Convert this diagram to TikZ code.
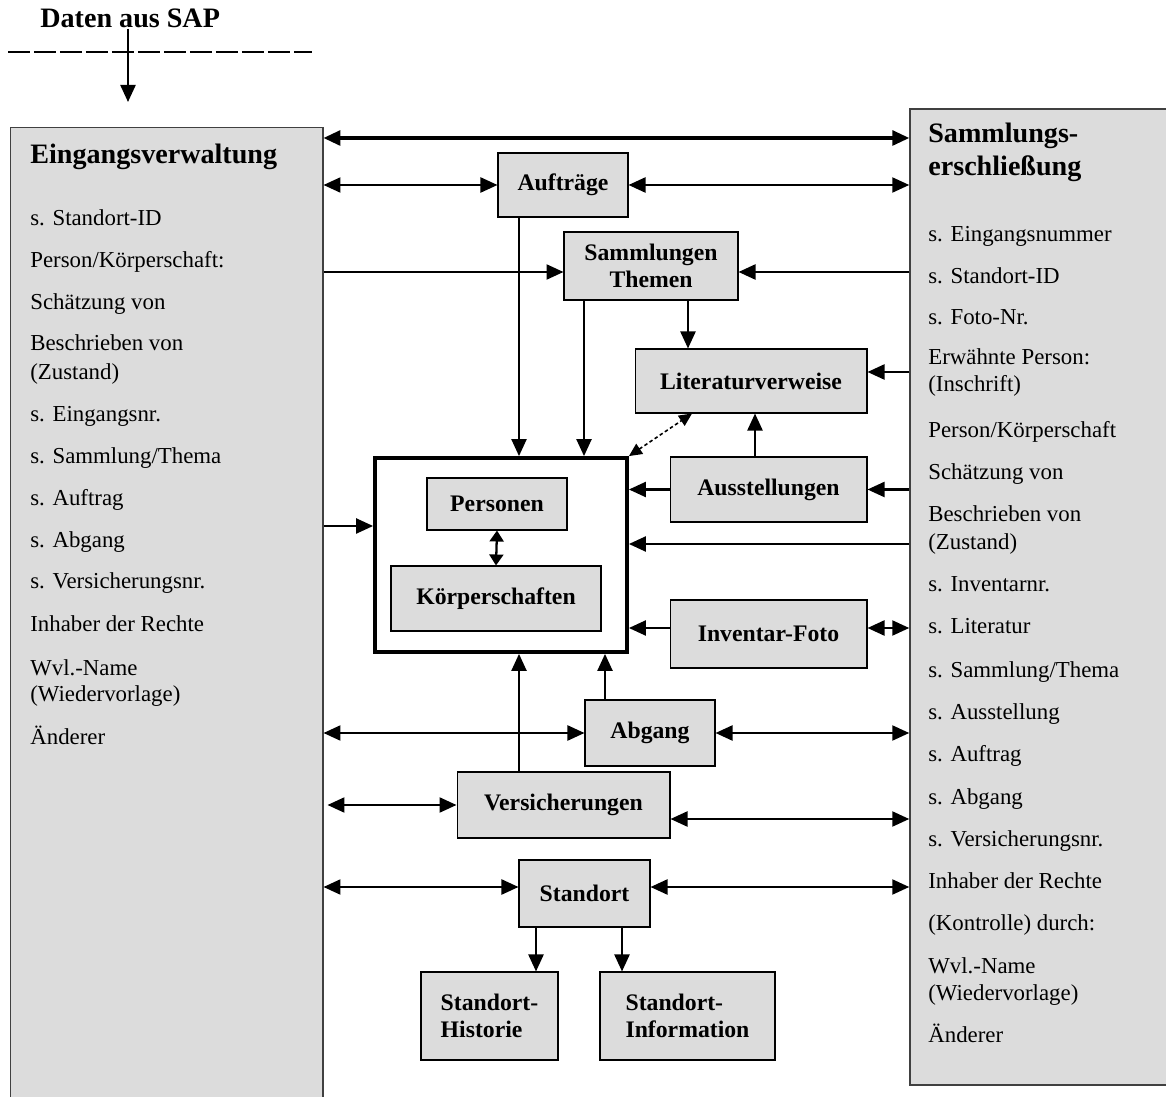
\documentclass[tikz,border=0pt]{standalone}
\usepackage{fontspec}
\setmainfont{Liberation Serif}
\usetikzlibrary{arrows.meta}

\definecolor{kasten}{HTML}{DCDCDC}

\begin{document}
\begin{tikzpicture}[x=0.02cm, y=-0.02cm,
    box/.style={draw, fill=kasten, line width=0.6pt, inner sep=0pt, align=center,
        font=\fontsize{13.5}{15}\selectfont\bfseries,
        path picture={\draw[line width=1.6pt] (path picture bounding box.south west) -- (path picture bounding box.south east);}},
    panel/.style={draw=black!75, fill=kasten, line width=0.6pt, inner sep=0pt},
    eintrag/.style={anchor=base west, inner sep=0pt, font=\fontsize{13}{15}\selectfont},
    titel/.style={anchor=base west, inner sep=0pt, font=\fontsize{16}{18}\selectfont\bfseries},
    pfeil/.style={-{Triangle[length=0.34cm, width=0.3cm]}, line width=1.3pt},
    dpfeil/.style={{Triangle[length=0.34cm, width=0.3cm]}-{Triangle[length=0.34cm, width=0.3cm]}, line width=1.3pt}]

    \useasboundingbox (0,0) rectangle (1166,1097);

    % Daten aus SAP
    \node[titel] (sap) at (40,28) {Daten aus SAP};
    \draw[line width=1pt, dash pattern=on 0.44cm off 0.08cm] (8,52) -- (312,52);
    \coordinate (v0) at (128,0);
    \coordinate (sapende) at (128,102);
    \draw[pfeil] (sap.south -| v0) -- (sapende);

    % the two panels
    \node[panel, minimum width=6.26cm, minimum height=19.7cm] (ein) at (166.5,620) {};
    \node[panel, line width=0.9pt, minimum width=5.3cm, minimum height=19.52cm] (ers) at (1042.5,597) {};

    \node[titel] (eintitel) at (30,164) {Eingangsverwaltung};
    \node[titel] (erstitel) at (928,143) {Sammlungs-};
    \node[titel] (erstitel2) at (928,176) {erschließung};

    \foreach \y/\t [count=\i] in {226/{s. Standort-ID}, 268/{Person/Körperschaft:}, 310/{Schätzung von},
        351/{Beschrieben von}, 380/{(Zustand)}, 422/{s. Eingangsnr.}, 464/{s. Sammlung/Thema},
        506/{s. Auftrag}, 548/{s. Abgang}, 589/{s. Versicherungsnr.}, 632/{Inhaber der Rechte},
        675/{Wvl.-Name}, 701/{(Wiedervorlage)}, 744/{Änderer}}
        \node[eintrag] (links\i) at (30,\y) {\t};

    \foreach \y/\t [count=\i] in {242/{s. Eingangsnummer}, 284/{s. Standort-ID}, 325/{s. Foto-Nr.},
        365/{Erwähnte Person:}, 392/{(Inschrift)}, 438/{Person/Körperschaft}, 480/{Schätzung von},
        522/{Beschrieben von}, 550/{(Zustand)}, 592/{s. Inventarnr.}, 634/{s. Literatur},
        677/{s. Sammlung/Thema}, 719/{s. Ausstellung}, 761/{s. Auftrag}, 804/{s. Abgang},
        846/{s. Versicherungsnr.}, 888/{Inhaber der Rechte}, 930/{(Kontrolle) durch:},
        973/{Wvl.-Name}, 1000/{(Wiedervorlage)}, 1042/{Änderer}}
        \node[eintrag] (rechts\i) at (928,\y) {\t};

    % boxes
    \node[box, minimum width=2.6cm, minimum height=1.28cm] (auf) at (563,185) {Aufträge};
    \node[box, minimum width=3.48cm, minimum height=1.36cm] (sam) at (651,266) {Sammlungen\\Themen};
    \node[box, minimum width=4.64cm, minimum height=1.28cm] (lit) at (751,381) {Literaturverweise};
    \node[draw, fill=white, line width=2.2pt, minimum width=5.04cm, minimum height=3.88cm] (haupt) at (501,555) {};
    \node[box, minimum width=2.8cm, minimum height=1.04cm] (per) at (497,504) {Personen};
    \node[box, minimum width=4.2cm, minimum height=1.3cm] (koe) at (496,598.5) {Körperschaften};
    \node[box, minimum width=3.94cm, minimum height=1.3cm] (aus) at (768.5,489.5) {Ausstellungen};
    \node[box, minimum width=3.94cm, minimum height=1.36cm] (inv) at (768.5,634) {Inventar-Foto};
    \node[box, minimum width=2.6cm, minimum height=1.32cm] (abg) at (650,733) {Abgang};
    \node[box, minimum width=4.26cm, minimum height=1.32cm] (ver) at (563.5,805) {Versicherungen};
    \node[box, minimum width=2.62cm, minimum height=1.34cm] (sta) at (584.5,893.5) {Standort};
    \node[box, minimum width=2.74cm, minimum height=1.76cm, align=left] (his) at (489.5,1016) {Standort-\\Historie};
    \node[box, minimum width=3.5cm, minimum height=1.76cm, align=left] (inf) at (687.5,1016) {Standort-\\Information};

    % guide lines for the connectors
    \coordinate (h1) at (0,138);
    \coordinate (h3) at (0,272);
    \coordinate (h4) at (0,372);
    \coordinate (h5) at (0,544);
    \coordinate (h6) at (0,628);
    \coordinate (h7) at (0,526);
    \coordinate (h9) at (0,819);
    \coordinate (h10) at (0,887);
    \coordinate (v1) at (519,0);
    \coordinate (v2) at (584,0);
    \coordinate (v3) at (688,0);
    \coordinate (v4) at (692,0);
    \coordinate (v5) at (755,0);
    \coordinate (v6) at (605,0);
    \coordinate (v7) at (536,0);
    \coordinate (v8) at (622,0);

    % connectors
    \draw[dpfeil, line width=1.8pt] (ein.east |- h1) -- (ers.west |- h1);
    \draw[dpfeil] (ein.east |- auf.west) -- (auf.west);
    \draw[dpfeil] (auf.east) -- (ers.west |- auf.east);
    \draw[pfeil] (ein.east |- h3) -- (sam.west |- h3);
    \draw[pfeil] (ers.west |- h3) -- (sam.east |- h3);
    \draw[pfeil] (auf.south -| v1) -- (haupt.north -| v1);
    \draw[pfeil] (sam.south -| v2) -- (haupt.north -| v2);
    \draw[pfeil] (sam.south -| v3) -- (lit.north -| v3);
    \draw[pfeil] (ers.west |- h4) -- (lit.east |- h4);
    \draw[{Triangle[length=0.26cm, width=0.24cm]}-{Triangle[length=0.26cm, width=0.24cm]}, line width=0.9pt,
        dash pattern=on 2pt off 1.5pt] (haupt.north east) -- (lit.south -| v4);
    \draw[pfeil] (aus.north -| v5) -- (lit.south -| v5);
    \draw[pfeil] (aus.west) -- (haupt.east |- aus.west);
    \draw[pfeil] (ers.west |- aus.east) -- (aus.east);
    \draw[pfeil] (ers.west |- h5) -- (haupt.east |- h5);
    \draw[pfeil] (inv.west |- h6) -- (haupt.east |- h6);
    \draw[dpfeil] (inv.east |- h6) -- (ers.west |- h6);
    \draw[pfeil] (ein.east |- h7) -- (haupt.west |- h7);
    \draw[{Triangle[length=0.22cm, width=0.28cm]}-{Triangle[length=0.22cm, width=0.28cm]}, line width=1.3pt]
        (per.south) -- (koe.north);
    \draw[dpfeil] (ein.east |- abg.west) -- (abg.west);
    \draw[dpfeil] (abg.east) -- (ers.west |- abg.east);
    \draw[pfeil] (abg.north -| v6) -- (haupt.south -| v6);
    \draw[pfeil] (ver.north -| v1) -- (haupt.south -| v1);
    \draw[dpfeil] ([xshift=0.08cm]ein.east |- ver.west) -- (ver.west);
    \draw[dpfeil] (ver.east |- h9) -- (ers.west |- h9);
    \draw[dpfeil] (ein.east |- h10) -- (sta.west |- h10);
    \draw[dpfeil] (sta.east |- h10) -- (ers.west |- h10);
    \draw[pfeil] (sta.south -| v7) -- (his.north -| v7);
    \draw[pfeil] (sta.south -| v8) -- (inf.north -| v8);
\end{tikzpicture}
\end{document}
